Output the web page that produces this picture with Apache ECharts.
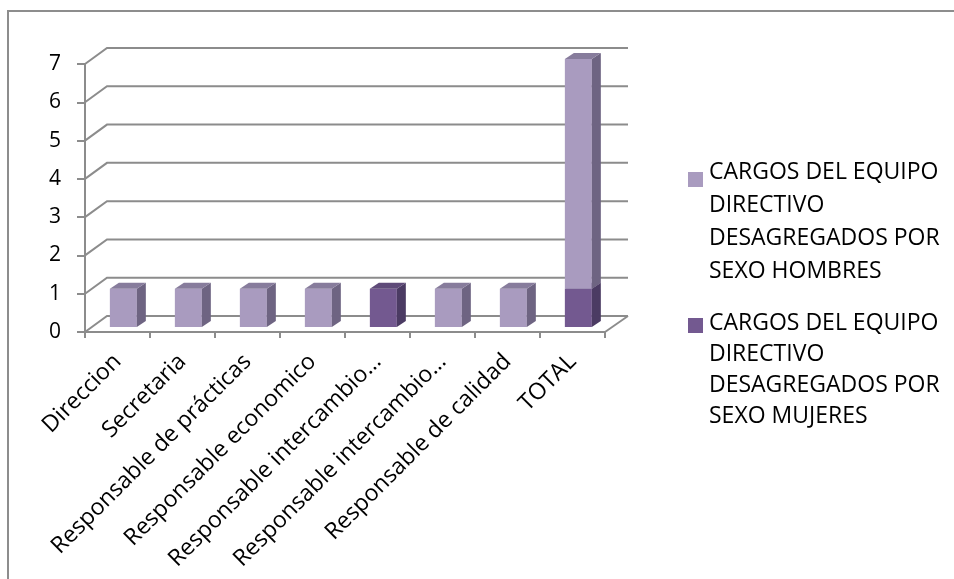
<!DOCTYPE html>
<html>
<head>
<meta charset="utf-8">
<script src="https://cdn.jsdelivr.net/npm/echarts@6/dist/echarts.min.js"></script>
<style>html,body{margin:0;padding:0;background:#fff;}#main{width:954px;height:579px;}</style>
</head>
<body>
<div id="main"></div>
<script>
const categories = ['Direccion','Secretaria','Responsable de prácticas','Responsable economico','Responsable intercambio…','Responsable intercambio…','Responsable de calidad','TOTAL'];
const hombres = [1,1,1,1,0,1,1,6];
const mujeres = [0,0,0,0,1,0,0,1];
const yTicks = [0,1,2,3,4,5,6,7];
const nameH = 'CARGOS DEL EQUIPO DIRECTIVO DESAGREGADOS POR SEXO HOMBRES';
const nameM = 'CARGOS DEL EQUIPO DIRECTIVO DESAGREGADOS POR SEXO MUJERES';

const FONT = 'Open Sans';
const GRID_COLOR = '#8c8c8c';
const DX = 22, DY = -16;
const colH = {front:'#a99bbf', side:'#6e6482', top:'#877c9c'};
const colM = {front:'#735990', side:'#4b3b63', top:'#5f4b79'};

function barRenderer(col){
  return function(params, api){
    const idx = api.value(0), s = api.value(1), e = api.value(2);
    if (e <= s) return null;
    const p0 = api.coord([idx, s]);
    const p1 = api.coord([idx, e]);
    const band = api.size([1,0])[0];
    const w = band*0.415;
    const cx = p0[0] + band*0.09;
    const xl = cx - w/2, xr = cx + w/2;
    const yb = p0[1]-5, yt = p1[1]-5;
    const ddx = 9, ddy = -6;
    return {type:'group', children:[
      {type:'rect', shape:{x:xl, y:yt, width:w, height:yb-yt}, style:{fill:col.front}},
      {type:'polygon', shape:{points:[[xr,yt],[xr+ddx,yt+ddy],[xr+ddx,yb+ddy],[xr,yb]]}, style:{fill:col.side}},
      {type:'polygon', shape:{points:[[xl,yt],[xl+ddx,yt+ddy],[xr+ddx,yt+ddy],[xr,yt]]}, style:{fill:col.top}}
    ]};
  };
}

const chart = echarts.init(document.getElementById('main'), null, {renderer:'canvas'});
chart.setOption({
  backgroundColor:'#ffffff',
  animation:false,
  textStyle:{fontFamily:FONT},
  grid:{left:85, top:64, width:520, height:268, containLabel:false, outerBoundsMode:'none'},
  xAxis:{
    type:'category', data:categories, boundaryGap:true,
    axisLine:{show:true, lineStyle:{color:GRID_COLOR, width:2}},
    axisTick:{show:true, length:6, lineStyle:{color:GRID_COLOR, width:2}},
    axisLabel:{interval:0, rotate:45, margin:26, color:'#000', fontSize:23, fontFamily:FONT},
    splitLine:{show:false}
  },
  yAxis:{
    type:'value', min:0, max:7, interval:1,
    axisLine:{show:true, lineStyle:{color:GRID_COLOR, width:2}},
    axisTick:{show:true, length:8, lineStyle:{color:GRID_COLOR, width:2}},
    axisLabel:{margin:24, color:'#000', fontSize:21, fontFamily:FONT},
    splitLine:{show:false}
  },
  series:[
    {
      type:'custom', name:'frame', silent:true, z:1,
      data: yTicks.map(v => [0, v]),
      encode:{x:0, y:1},
      renderItem:function(params, api){
        const cs = params.coordSys;
        const v = api.value(1);
        const y = api.coord([0, v])[1];
        const x0 = cs.x, x1 = cs.x + cs.width;
        const children = [{type:'polyline', shape:{points:[[x0,y],[x0+DX,y+DY],[x1+DX+1,y+DY]]}, style:{stroke:GRID_COLOR, lineWidth:2, fill:null}}];
        if (v === 0) children.push({type:'line', shape:{x1:x1, y1:y, x2:x1+DX+1, y2:y+DY}, style:{stroke:GRID_COLOR, lineWidth:2}});
        return {type:'group', children:children};
      }
    },
    {
      type:'custom', name:nameM, z:3,
      data: categories.map((c,i) => [i, 0, mujeres[i]]),
      encode:{x:0, y:[1,2]},
      renderItem: barRenderer(colM)
    },
    {
      type:'custom', name:nameH, z:4,
      data: categories.map((c,i) => [i, mujeres[i], mujeres[i]+hombres[i]]),
      encode:{x:0, y:[1,2]},
      renderItem: barRenderer(colH)
    }
  ],
  graphic:[
    {type:'rect', shape:{x:8, y:11, width:1000, height:1000}, style:{fill:null, stroke:'#8d8d8d', lineWidth:2}, z:0},
    {type:'rect', shape:{x:688, y:172, width:15, height:15}, style:{fill:colH.front}},
    {type:'text', x:709, y:156, style:{text:'CARGOS DEL EQUIPO\nDIRECTIVO\nDESAGREGADOS POR\nSEXO HOMBRES', font:'23px "Open Sans"', fill:'#000', lineHeight:33}},
    {type:'rect', shape:{x:688, y:318, width:15, height:15}, style:{fill:colM.front}},
    {type:'text', x:709, y:308, style:{text:'CARGOS DEL EQUIPO\nDIRECTIVO\nDESAGREGADOS POR\nSEXO MUJERES', font:'23px "Open Sans"', fill:'#000', lineHeight:31}}
  ]
});
</script>
</body>
</html>
